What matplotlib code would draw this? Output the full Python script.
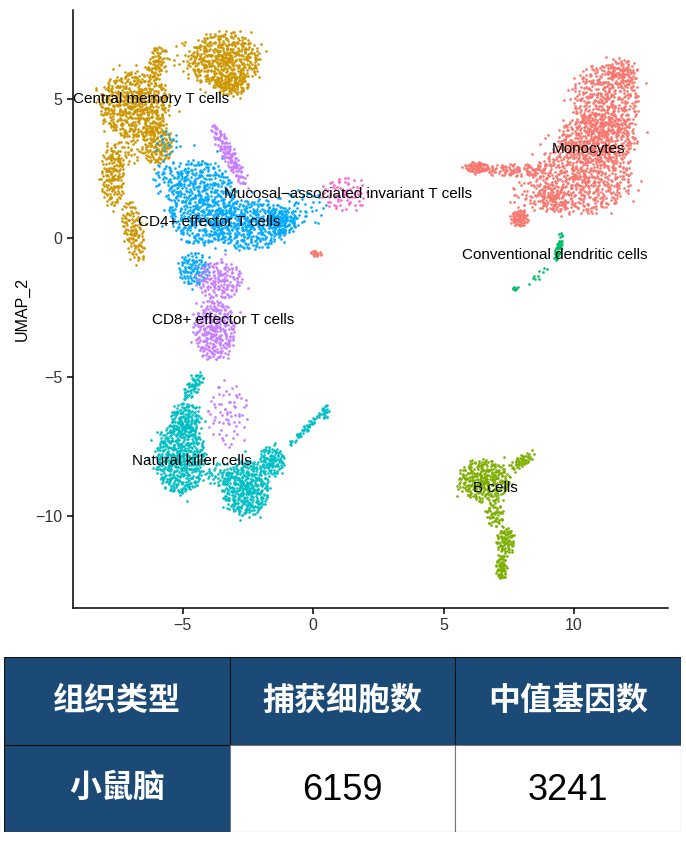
import numpy as np
import matplotlib
matplotlib.use('Agg')
import matplotlib.pyplot as plt
from matplotlib.patches import Rectangle

# cluster names and ggplot hue colours
clusters = ['Monocytes', 'Central memory T cells', 'B cells', 'Conventional dendritic cells',
            'Natural killer cells', 'CD4+ effector T cells', 'CD8+ effector T cells',
            'Mucosal\u2212associated invariant T cells']
colors = ['#F8766D', '#CD9600', '#7CAE00', '#00BE67', '#00BFC4', '#00A9FF', '#C77CFF', '#FF61CC']

# label positions (UMAP_1, UMAP_2)
label_x = [10.57, -6.2, 6.97, 9.27, -4.64, -3.98, -3.45, 1.34]
label_y = [3.2, 5.0, -9.0, -0.61, -8.02, 0.58, -2.95, 1.58]

# cluster shapes: centre x, centre y, half width, half height, angle, cell count
blobs_mono = [(11.2, 5.0, 1.3, 1.3, 0, 430), (11.85, 5.95, 0.6, 0.5, 0, 90),
              (10.9, 3.6, 1.5, 0.9, 0, 450), (10.3, 2.2, 1.9, 1.3, 0, 650),
              (9.2, 1.4, 0.6, 0.5, 0, 80), (7.7, 2.45, 1.3, 0.22, 0, 100),
              (6.25, 2.55, 0.45, 0.2, 0, 70), (8.3, 1.5, 0.8, 0.6, 0, 45),
              (7.9, 0.72, 0.35, 0.3, 0, 70), (0.1, -0.55, 0.25, 0.12, -15, 18)]
blobs_cm = [(-3.41, 6.4, 1.35, 1.0, 5, 520), (-3.14, 5.5, 0.65, 0.4, 0, 100),
            (-6.86, 4.8, 1.35, 1.2, 0, 600), (-6.0, 3.4, 0.6, 0.75, 0, 170),
            (-6.0, 6.3, 0.35, 0.65, -10, 80), (-7.7, 2.2, 0.45, 1.1, 0, 160),
            (-6.9, 0.25, 0.4, 1.1, 12, 130), (-7.2, 3.1, 0.6, 0.55, 0, 45),
            (-4.8, 6.5, 0.8, 0.6, 0, 25)]
blobs_b = [(6.55, -8.7, 1.0, 0.75, 0, 320), (8.0, -8.0, 0.5, 0.2, 30, 50),
           (6.95, -9.9, 0.35, 0.5, 0, 60), (7.35, -10.9, 0.35, 0.55, 0, 90),
           (7.2, -11.85, 0.2, 0.45, 0, 60)]
blobs_cdc = [(9.4, -0.35, 0.12, 0.5, -15, 45), (8.6, -1.35, 0.5, 0.15, 40, 10),
             (7.75, -1.8, 0.12, 0.08, 0, 8)]
blobs_nk = [(-5.1, -7.9, 0.95, 1.3, 0, 560), (-4.9, -6.5, 0.6, 0.6, -20, 150),
            (-4.6, -5.3, 0.25, 0.6, -35, 60), (-2.6, -9.0, 0.9, 1.0, 0, 420),
            (-1.6, -8.0, 0.5, 0.55, 0, 120), (-0.3, -6.85, 0.95, 0.1, 43, 50),
            (0.45, -6.25, 0.12, 0.3, 0, 20), (-3.6, -8.5, 0.6, 0.4, 0, 45)]
blobs_cd4 = [(-4.3, 1.3, 1.3, 1.55, 0, 580), (-2.5, 0.5, 1.5, 0.9, 0, 450),
             (-1.2, 0.6, 0.6, 0.5, 0, 120), (-4.6, -1.1, 0.6, 0.6, 0, 110),
             (-0.5, 1.1, 1.0, 0.7, 0, 50), (-5.5, 2.2, 0.7, 0.6, 0, 60),
             (-5.6, 3.4, 0.5, 0.5, 0, 20)]
blobs_cd8 = [(-3.25, 3.0, 1.3, 0.25, -60, 140), (-3.8, -3.3, 0.8, 1.1, 0, 300),
             (-3.6, -1.5, 0.9, 0.7, 0, 160), (-3.3, -6.3, 0.8, 1.2, 0, 70)]
blobs_mait = [(1.2, 1.6, 0.9, 0.65, 0, 70)]

all_blobs = [blobs_mono, blobs_cm, blobs_b, blobs_cdc, blobs_nk, blobs_cd4, blobs_cd8, blobs_mait]

# table
table_header = ['组织类型', '捕获细胞数', '中值基因数']
table_row = ['小鼠脑', '6159', '3241']


def halton(i, base):
    f, r = 1.0, 0.0
    while i > 0:
        f = f / base
        r += f * (i % base)
        i //= base
    return r


def fill_blob(cx, cy, rx, ry, ang, n, start):
    idx = np.arange(start + 1, start + n + 1)
    u = np.array([halton(k, 2) for k in idx])
    v = np.array([halton(k, 3) for k in idx])
    w = np.array([halton(k, 5) for k in idx])
    z = np.array([halton(k, 7) for k in idx])
    r = u ** 0.6
    r = np.where(z > 0.92, r * 1.3, r)  # a few stray cells round the edge
    t = 2 * np.pi * v
    px = r * np.cos(t) * rx + (w - 0.5) * 0.12 * rx
    py = r * np.sin(t) * ry + (z - 0.5) * 0.12 * ry
    a = np.deg2rad(ang)
    return cx + px * np.cos(a) - py * np.sin(a), cy + px * np.sin(a) + py * np.cos(a)


fig = plt.figure(figsize=(6.86, 8.42), dpi=100)
ax = fig.add_axes([73 / 686, (842 - 608) / 842, (668 - 73) / 686, (608 - 10) / 842])

start = 0
for name, col, blobs in zip(clusters, colors, all_blobs):
    xs, ys = [], []
    for b in blobs:
        x, y = fill_blob(*b, start)
        start += b[5] + 7
        xs.append(x)
        ys.append(y)
    ax.scatter(np.concatenate(xs), np.concatenate(ys), s=3.6, color=col, linewidths=0)

for name, lx, ly in zip(clusters, label_x, label_y):
    ax.text(lx, ly, name, ha='center', va='center', fontsize=11, family='Liberation Sans')

ax.set_xlim(-9.21, 13.6)
ax.set_ylim(-13.3, 8.2)
ax.set_xticks([-5, 0, 5, 10])
ax.set_xticklabels(['\u22125', '0', '5', '10'])
ax.set_yticks([-10, -5, 0, 5])
ax.set_yticklabels(['\u221210', '\u22125', '0', '5'])
ax.spines['top'].set_visible(False)
ax.spines['right'].set_visible(False)
for s in ['left', 'bottom']:
    ax.spines[s].set_linewidth(1.1)
ax.tick_params(length=4, width=1.1, labelsize=11.5, colors='black', labelcolor='#333333')
for lab in ax.get_xticklabels() + ax.get_yticklabels():
    lab.set_family('Liberation Sans')
ax.set_ylabel('UMAP_2', fontsize=11.5, family='Liberation Sans', labelpad=4)

# table at the bottom
tax = fig.add_axes([4 / 686, (842 - 832) / 842, (681 - 4) / 686, (832 - 657) / 842])
tax.set_xlim(0, 3)
tax.set_ylim(0, 2)
tax.axis('off')
head_col = '#1B4A77'
cjk = ['Noto Sans CJK SC', 'DejaVu Sans']
for i in range(3):
    tax.add_patch(Rectangle((i, 1), 1, 1, facecolor=head_col, edgecolor='#111111', lw=0.8))
    tax.text(i + 0.5, 1.5, table_header[i], ha='center', va='center', color='white',
             fontsize=23, fontweight='bold', family=cjk)
    fc = head_col if i == 0 else 'white'
    ec = '#111111' if i == 0 else '#777777'
    tax.add_patch(Rectangle((i, 0), 1, 1, facecolor=fc, edgecolor=ec, lw=0.8))
    if i == 0:
        tax.text(i + 0.5, 0.5, table_row[i], ha='center', va='center', color='white',
                 fontsize=23, fontweight='bold', family=cjk)
    else:
        tax.text(i + 0.5, 0.48, table_row[i], ha='center', va='center', color='black',
                 fontsize=26, family='Liberation Sans')

fig.savefig('out.png', dpi=100)
